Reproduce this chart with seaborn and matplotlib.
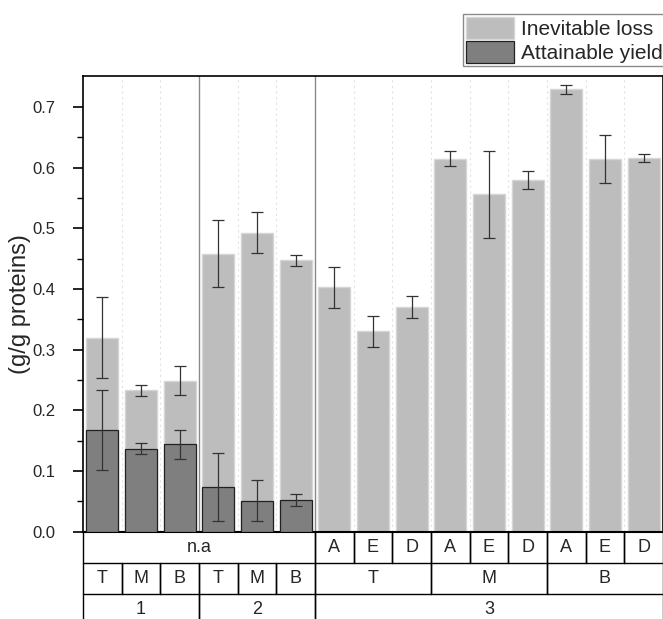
import numpy as np
import pandas as pd
import matplotlib
matplotlib.use("Agg")
import matplotlib.pyplot as plt
import seaborn as sns

# ---- data ----
row1 = ["n.a", "n.a", "n.a", "n.a", "n.a", "n.a", "A", "E", "D", "A", "E", "D", "A", "E", "D"]
row2 = ["T", "M", "B", "T", "M", "B", "T", "T", "T", "M", "M", "M", "B", "B", "B"]
row3 = ["1", "1", "1", "2", "2", "2", "3", "3", "3", "3", "3", "3", "3", "3", "3"]
total = [0.320, 0.233, 0.249, 0.458, 0.493, 0.447, 0.403, 0.330, 0.371,
         0.615, 0.556, 0.580, 0.729, 0.614, 0.616]
total_err = [0.066, 0.009, 0.024, 0.055, 0.034, 0.009, 0.034, 0.025, 0.018,
             0.013, 0.072, 0.015, 0.007, 0.040, 0.006]
attain = [0.167, 0.137, 0.144, 0.074, 0.051, 0.052]
attain_err = [0.066, 0.009, 0.024, 0.056, 0.034, 0.010]

LIGHT = "#bdbdbd"
DARK = "#7f7f7f"

sns.set_style("ticks")
plt.rcParams["font.family"] = ["Liberation Sans", "DejaVu Sans"]

fig = plt.figure(figsize=(6.63, 6.19), dpi=100)
ax = fig.add_axes([83 / 663, 1 - 531.7 / 619, 1 - 83 / 663, (531.7 - 76) / 619])

n = len(total)
pos = [str(i) for i in range(n)]
df_tot = pd.DataFrame({"pos": pos, "val": total})
df_att = pd.DataFrame({"pos": pos[:len(attain)], "val": attain})

sns.barplot(data=df_tot, x="pos", y="val", order=pos, color=LIGHT, saturation=1,
            width=0.82, edgecolor="#d6d6d6", linewidth=1.0, errorbar=None, ax=ax,
            label="Inevitable loss", zorder=2)
sns.barplot(data=df_att, x="pos", y="val", order=pos, color=DARK, saturation=1,
            width=0.82, edgecolor="#222222", linewidth=0.9, errorbar=None, ax=ax,
            label="Attainable yield", zorder=3)

x = np.arange(n)
ax.errorbar(x, total, yerr=total_err, fmt="none", ecolor="#333333", elinewidth=0.9,
            capsize=4, capthick=0.9, zorder=4)
ax.errorbar(x[:len(attain)], attain, yerr=attain_err, fmt="none", ecolor="#333333",
            elinewidth=0.9, capsize=4, capthick=0.9, zorder=4)

# grid lines between bars
for b in np.arange(0.5, n - 0.5, 1.0):
    if b in (2.5, 5.5):
        ax.axvline(b, color="#8a8a8a", lw=1.0, zorder=1)
    else:
        ax.axvline(b, color="#e2e2e2", lw=0.8, ls=(0, (2, 3)), zorder=1)

ax.set_xlim(-0.5, n - 0.5)
ax.set_ylim(0, 0.751)
ax.set_yticks(np.arange(0, 0.71, 0.1))
ax.set_yticks(np.arange(0.05, 0.75, 0.1), minor=True)
ax.set_yticklabels([f"{v:.1f}" for v in np.arange(0, 0.71, 0.1)], fontsize=12)
ax.tick_params(axis="y", which="major", direction="out", length=7, width=1.2,
               color="black", pad=13)
ax.tick_params(axis="y", which="minor", direction="out", length=4, width=1.0, color="black")
ax.set_xticks([])
ax.set_xlabel("")
ax.set_ylabel("(g/g proteins)", fontsize=17, labelpad=1)
for s in ["left", "bottom", "top", "right"]:
    ax.spines[s].set_color("black")
ax.spines["left"].set_linewidth(1.2)
ax.spines["bottom"].set_linewidth(1.5)
ax.spines["top"].set_linewidth(1.2)
ax.spines["right"].set_linewidth(1.2)

# ---- categorical table below axis ----
trans = matplotlib.transforms.blended_transform_factory(ax.transData, ax.transAxes)
ah = 531.7 - 76
rh = 31 / ah
lkw = dict(color="black", lw=1.0, transform=trans, clip_on=False)

def spans(labels):
    out = []
    start = 0
    for i in range(1, len(labels) + 1):
        if i == len(labels) or labels[i] != labels[start]:
            out.append((start, i - 1, labels[start]))
            start = i
    return out

rows = [row1, row2, row3]
for r, labels in enumerate(rows):
    y0 = -r * rh
    y1 = -(r + 1) * rh
    ax.plot([-0.5, n - 0.5], [y1, y1], **lkw)
    for (a, b, lab) in spans(labels):
        ax.plot([a - 0.5, a - 0.5], [y0, y1], **lkw)
        ax.plot([b + 0.5, b + 0.5], [y0, y1], **lkw)
        ax.text((a + b) / 2, (y0 + y1) / 2, lab, ha="center", va="center",
                fontsize=13, transform=trans, clip_on=False)

fig.legend(loc="upper right", bbox_to_anchor=(1.004, 1 - 14 / 619), fontsize=15,
           frameon=True, fancybox=False, edgecolor="#8a8a8a", framealpha=1,
           borderpad=0.15, handlelength=2.3, handleheight=1.25, labelspacing=0.1,
           handletextpad=0.32, borderaxespad=0)
if ax.get_legend() is not None:
    ax.get_legend().remove()

fig.savefig("out.png", dpi=100)
